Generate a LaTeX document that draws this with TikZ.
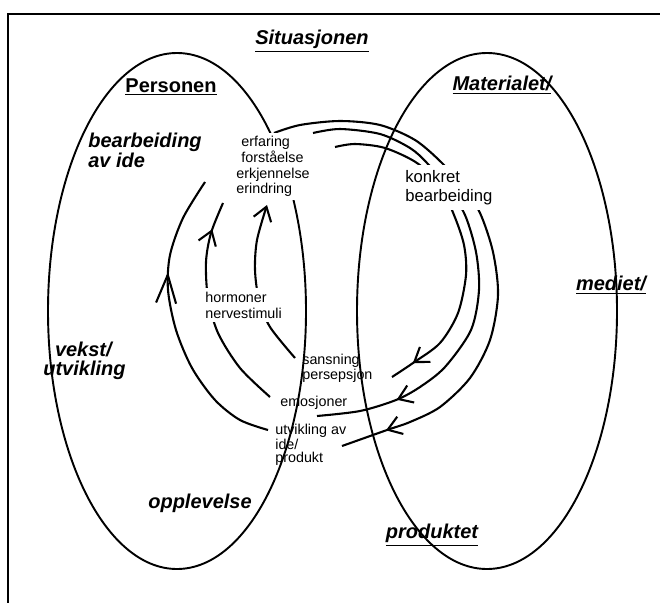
\documentclass[tikz,border=0pt]{standalone}
\usepackage{fontspec}
\setmainfont{Liberation Sans}
\usetikzlibrary{arrows.meta,decorations.markings}
\begin{document}
\begin{tikzpicture}[x=0.6pt,y=-0.6pt,>={Straight Barb[length=8pt,width=11pt]},
    big/.style={font=\fontsize{12}{9}\selectfont\bfseries\itshape,align=left,inner sep=0pt},
    small/.style={font=\fontsize{8.6}{9.4}\selectfont,align=left,inner sep=0pt},
    cover/.style={fill=white,inner sep=2pt},
    flow/.style={line width=1.25pt},
    mid/.style={postaction={decorate},decoration={markings,mark=at position #1 with {\arrow{>}}}},
    bigmid/.style={postaction={decorate},decoration={markings,mark=at position #1 with {\arrow{Straight Barb[length=17pt,width=12pt]}}}}]
    \useasboundingbox (0,0) rectangle (660,603);
    \draw[line width=1.3pt] (660,14) -- (8,14) -- (8,603);
    \draw[flow,mid=-28pt] plot[smooth] coordinates {(274,133) (300,125) (340,121) (380,125) (415,140) (442,163) (463,187) (480,213) (493,252) (498,295) (490,340) (470,378) (440,407) (410,422) (387,430) (342,446)};
    \draw[flow,mid=-49pt] plot[smooth] coordinates {(313,133) (340,129) (380,134) (410,148) (427,163) (448,188) (465,215) (476,252) (479,290) (471,330) (445,367) (420,387) (396,400) (360,411) (317,416)};
    \draw[flow,mid=-15pt] plot[smooth] coordinates {(335,147) (355,144) (385,148) (417,163) (440,186) (454,215) (464,245) (466,275) (458,313) (440,343) (413,363) (392,377)};
    \draw[flow,bigmid=-59pt] plot[smooth] coordinates {(268,430) (240,420) (215,400) (192,368) (176,330) (168,290) (170,255) (183,218) (205,182)};
    \draw[flow,mid=-17pt] plot[smooth] coordinates {(270,397) (240,368) (218,333) (208,298) (206,262) (211,233) (223,203)};
    \draw[flow,->] plot[smooth] coordinates {(295,358) (270,327) (259,300) (255,270) (257,240) (267,205)};
    \draw[line width=1.15pt] (177,311) ellipse [x radius=129,y radius=258];
    \draw[line width=1.15pt] (487,311) ellipse [x radius=130,y radius=258];
    \node[big] (situasjon) at (312,41) {\underline{Situasjonen}};
    \node[big,font=\fontsize{12}{9}\selectfont\bfseries] (personen) at (171,87) {\underline{Personen}};
    \node[big] (materialet) at (502,85) {\underline{Materialet/}};
    \node[big,anchor=west] (bearbeid) at (88,150.5) {bearbeiding\\av ide};
    \node[big,anchor=west,font=\fontsize{12}{11.6}\selectfont\bfseries\itshape] (vekst) at (43,361) {\hspace*{7pt}vekst/\\utvikling};
    \node[big] (opplevelse) at (200,503) {opplevelse};
    \node[big] (produktet) at (432,535) {\underline{produktet}};
    \node[big] (mediet) at (611,285) {\underline{mediet/}};
    \node[small,cover,anchor=west] (erfaring) at (232.7,166.5) {\hspace*{3pt}erfaring\\\hspace*{3pt}forståelse\\erkjennelse\\erindring};
    \node[small,cover,inner sep=3pt,anchor=west,font=\fontsize{10}{11.4}\selectfont] (konkret) at (400,187.5) {konkret\\bearbeiding};
    \node[small,cover,anchor=west,font=\fontsize{8.6}{9.6}\selectfont] (hormoner) at (201.7,305) {hormoner\\nervestimuli};
    \node[small,anchor=west,font=\fontsize{8.6}{8}\selectfont] (sansning) at (302,368.5) {sansning\\persepsjon};
    \node[small,anchor=west] (emosjoner) at (280,403) {emosjoner};
    \node[small,anchor=west,font=\fontsize{8.6}{7.8}\selectfont] (utvikling) at (275,445) {utvikling av\\ide/\\produkt};
\end{tikzpicture}
\end{document}
